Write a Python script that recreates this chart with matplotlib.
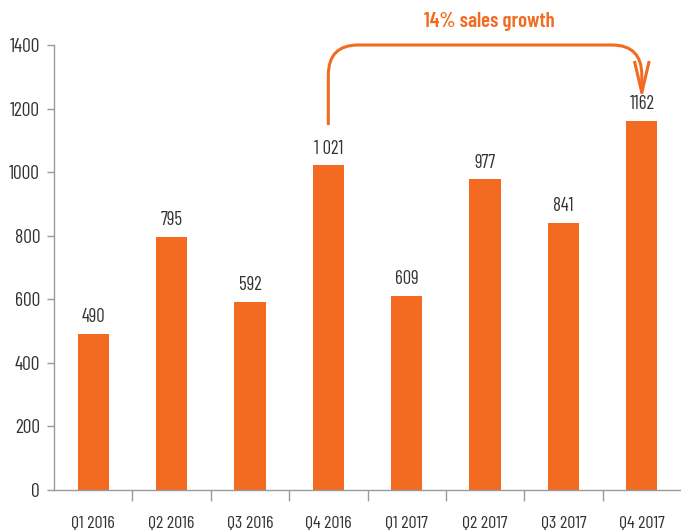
import matplotlib.pyplot as plt
from matplotlib.path import Path
from matplotlib.patches import PathPatch
from matplotlib import font_manager

quarters = ["Q1 2016", "Q2 2016", "Q3 2016", "Q4 2016",
            "Q1 2017", "Q2 2017", "Q3 2017", "Q4 2017"]
sales = [490, 795, 592, 1021, 609, 977, 841, 1162]
value_labels = ["490", "795", "592", "1 021", "609", "977", "841", "1162"]
growth_text = "14% sales growth"

orange = "#F26B21"
grey = "#9a9a9a"
dark = "#333333"

# pick a condensed face if one is available
names = {f.name for f in font_manager.fontManager.ttflist}
family = [n for n in ["Barlow Condensed", "Archivo Narrow", "Liberation Sans Narrow"]
          if n in names][:1] + ["DejaVu Sans"]
plt.rcParams["font.family"] = family

fig = plt.figure(figsize=(6.81, 5.31), dpi=100)
ax = fig.add_axes([54 / 681, 1 - 490 / 531, 1 - 54 / 681, (490 - 45) / 531])

x = list(range(len(quarters)))
ax.bar(x, sales, width=0.4, color=orange, zorder=2)

for xi, v, lab in zip(x, sales, value_labels):
    ax.annotate(lab, (xi, v), xytext=(0, 8.6), textcoords="offset points",
                ha="center", va="baseline", fontsize=13.5, color=dark)

ax.set_xlim(-0.5, len(quarters) - 0.5)
ax.set_ylim(0, 1400)
ax.set_yticks(range(0, 1401, 200))
ax.set_xticks(x)
ax.set_xticklabels(quarters)
ax.set_xticks([i - 0.5 for i in range(1, len(quarters))], minor=True)

for side in ["top", "right"]:
    ax.spines[side].set_visible(False)
for side in ["left", "bottom"]:
    ax.spines[side].set_color(grey)
    ax.spines[side].set_linewidth(1.0)

ax.tick_params(axis="y", colors=grey, labelcolor=dark, labelsize=14,
               length=5, width=1, pad=5)
ax.tick_params(axis="x", which="major", length=0, labelcolor=dark,
               labelsize=13, pad=19)
ax.tick_params(axis="x", which="minor", length=8, width=1, colors=grey)

# rounded bracket from Q4 2016 to Q4 2017
x0, x1 = 3, 7
y_start, y_top, y_tip = 1148, 1400, 1250
rx, ry = 0.38, 95
verts = [(x0, y_start), (x0, y_top - ry), (x0, y_top), (x0 + rx, y_top),
         (x1 - rx, y_top), (x1, y_top), (x1, y_top - ry), (x1, y_tip)]
codes = [Path.MOVETO, Path.LINETO, Path.CURVE3, Path.CURVE3,
         Path.LINETO, Path.CURVE3, Path.CURVE3, Path.LINETO]
ax.add_patch(PathPatch(Path(verts, codes), fill=False, edgecolor=orange,
                       linewidth=2.2, capstyle="butt", clip_on=False, zorder=3))
ax.plot([x1 - 0.09, x1, x1 + 0.09], [y_tip + 95, y_tip, y_tip + 95],
        color=orange, linewidth=2.2, clip_on=False, zorder=3)

ax.text(5.05, 1475, growth_text, ha="center", va="center", fontsize=15,
        fontweight="semibold", color=orange)

fig.savefig("out.png", dpi=100)
